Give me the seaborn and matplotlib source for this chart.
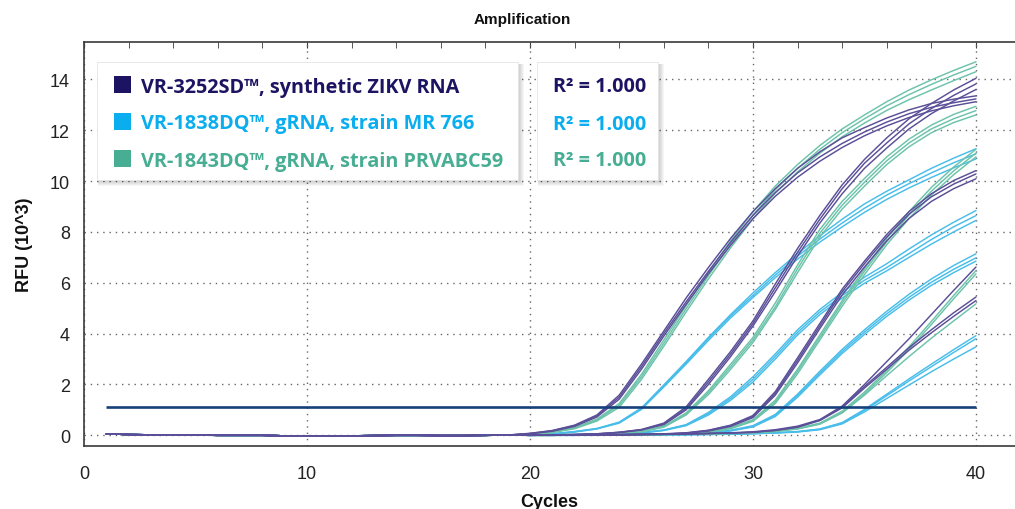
import matplotlib
matplotlib.use("Agg")
import matplotlib.pyplot as plt
import seaborn as sns
import pandas as pd
from matplotlib.patches import Rectangle
from matplotlib.ticker import MultipleLocator

# ---------------- data (RFU x 10^3) ----------------
CYCLES = list(range(1, 41))
# shared baseline, cycles 1..19
BASELINE = [0.06, 0.03, 0.02, 0.01, 0.01, 0.0, 0.0, 0.0, -0.02, -0.03,
            -0.03, -0.02, -0.01, 0.0, 0.0, -0.01, -0.01, 0.0, 0.01]

# each curve: cycles 20..40
# synthetic ZIKV RNA (VR-3252SD)
SYN_1A = [0.08,0.19,0.40,0.80,1.58,2.80,4.10,5.40,6.60,7.75,8.80,9.70,10.50,11.15,11.70,12.10,12.48,12.80,13.05,13.22,13.35]
SYN_1B = [0.07,0.18,0.38,0.76,1.50,2.70,4.00,5.25,6.45,7.60,8.65,9.55,10.32,10.95,11.48,11.93,12.32,12.65,12.90,13.08,13.23]
SYN_1C = [0.06,0.16,0.35,0.72,1.42,2.60,3.90,5.15,6.35,7.48,8.52,9.40,10.15,10.78,11.32,11.78,12.17,12.50,12.76,12.96,13.12]
SYN_2A = [0.01,0.02,0.03,0.06,0.12,0.23,0.48,1.12,2.20,3.30,4.50,5.95,7.35,8.65,9.85,10.85,11.70,12.45,13.05,13.58,14.04]
SYN_2B = [0.01,0.02,0.03,0.06,0.12,0.22,0.45,1.05,2.10,3.20,4.40,5.80,7.20,8.50,9.70,10.70,11.50,12.25,12.85,13.37,13.82]
SYN_2C = [0.01,0.02,0.03,0.05,0.11,0.21,0.42,1.00,2.00,3.10,4.30,5.65,7.05,8.35,9.50,10.50,11.30,12.05,12.65,13.15,13.60]
SYN_3A = [0.01,0.01,0.02,0.02,0.03,0.04,0.06,0.10,0.20,0.40,0.78,1.72,3.05,4.40,5.75,6.85,7.90,8.80,9.50,10.02,10.41]
SYN_3B = [0.01,0.01,0.02,0.02,0.03,0.04,0.05,0.09,0.19,0.38,0.74,1.65,2.95,4.30,5.65,6.75,7.80,8.70,9.38,9.88,10.28]
SYN_3C = [0.00,0.01,0.01,0.02,0.03,0.04,0.05,0.08,0.17,0.35,0.70,1.58,2.85,4.20,5.52,6.62,7.65,8.53,9.20,9.70,10.09]
SYN_4A = [0.00,0.01,0.01,0.02,0.02,0.03,0.04,0.06,0.08,0.10,0.14,0.22,0.36,0.62,1.15,2.00,2.90,3.80,4.75,5.70,6.62]
SYN_4B = [0.00,0.01,0.01,0.02,0.02,0.03,0.04,0.05,0.07,0.09,0.12,0.20,0.33,0.60,1.12,1.92,2.68,3.45,4.15,4.82,5.44]
SYN_4C = [0.00,0.00,0.01,0.01,0.02,0.03,0.04,0.05,0.07,0.09,0.12,0.19,0.32,0.58,1.08,1.86,2.60,3.35,4.03,4.68,5.30]

# gRNA strain MR 766 (VR-1838DQ)
MR_1A = [0.03,0.06,0.15,0.27,0.52,1.08,1.98,2.90,3.85,4.75,5.60,6.40,7.15,7.85,8.50,9.10,9.60,10.05,10.50,10.90,11.27]
MR_1B = [0.03,0.06,0.14,0.26,0.50,1.05,1.95,2.85,3.80,4.70,5.50,6.30,7.05,7.72,8.35,8.93,9.45,9.90,10.32,10.72,11.07]
MR_1C = [0.02,0.05,0.13,0.25,0.48,1.02,1.90,2.80,3.73,4.62,5.42,6.20,6.93,7.60,8.20,8.77,9.28,9.73,10.14,10.52,10.87]
MR_2A = [0.01,0.02,0.03,0.04,0.06,0.11,0.21,0.42,0.90,1.52,2.30,3.20,4.15,4.95,5.62,6.22,6.75,7.33,7.88,8.38,8.84]
MR_2B = [0.01,0.02,0.03,0.04,0.06,0.10,0.20,0.40,0.85,1.45,2.20,3.10,4.05,4.85,5.50,6.10,6.60,7.15,7.70,8.20,8.64]
MR_2C = [0.01,0.01,0.02,0.03,0.05,0.09,0.19,0.38,0.80,1.38,2.10,3.00,3.95,4.75,5.40,5.98,6.47,7.00,7.52,8.00,8.45]
MR_3A = [0.00,0.01,0.01,0.01,0.02,0.02,0.03,0.05,0.10,0.20,0.38,0.82,1.62,2.52,3.38,4.15,4.88,5.55,6.15,6.68,7.14]
MR_3B = [0.00,0.00,0.01,0.01,0.02,0.02,0.03,0.05,0.09,0.19,0.35,0.78,1.56,2.45,3.30,4.06,4.78,5.43,6.02,6.53,6.98]
MR_3C = [0.00,0.00,0.01,0.01,0.01,0.02,0.03,0.04,0.08,0.17,0.33,0.74,1.50,2.38,3.22,3.97,4.68,5.32,5.90,6.40,6.85]
MR_4A = [0.00,0.00,0.00,0.01,0.01,0.02,0.02,0.03,0.04,0.05,0.07,0.10,0.15,0.25,0.50,1.02,1.62,2.22,2.80,3.37,3.92]
MR_4B = [0.00,0.00,0.00,0.01,0.01,0.01,0.02,0.03,0.04,0.05,0.07,0.10,0.14,0.24,0.48,0.98,1.56,2.14,2.70,3.26,3.80]
MR_4C = [0.00,0.00,0.00,0.00,0.01,0.01,0.02,0.02,0.03,0.04,0.06,0.09,0.13,0.22,0.45,0.92,1.45,1.98,2.50,3.00,3.48]

# gRNA strain PRVABC59 (VR-1843DQ)
PRV_1A = [0.05,0.13,0.30,0.64,1.25,2.40,3.75,5.10,6.40,7.65,8.80,9.80,10.65,11.40,12.05,12.60,13.12,13.58,13.98,14.35,14.69]
PRV_1B = [0.05,0.12,0.28,0.60,1.18,2.30,3.62,4.98,6.28,7.52,8.66,9.66,10.50,11.25,11.90,12.45,12.96,13.40,13.80,14.17,14.51]
PRV_1C = [0.04,0.11,0.26,0.56,1.10,2.20,3.50,4.85,6.15,7.38,8.52,9.52,10.36,11.10,11.74,12.28,12.78,13.20,13.58,13.95,14.30]
PRV_2A = [0.01,0.02,0.03,0.05,0.08,0.16,0.36,0.88,1.75,2.80,3.85,5.20,6.70,8.10,9.20,10.10,10.95,11.65,12.20,12.62,12.94]
PRV_2B = [0.01,0.02,0.03,0.05,0.07,0.15,0.34,0.84,1.68,2.70,3.75,5.05,6.55,7.95,9.05,9.95,10.80,11.50,12.05,12.45,12.77]
PRV_2C = [0.01,0.01,0.02,0.04,0.07,0.14,0.32,0.80,1.60,2.60,3.65,4.95,6.40,7.80,8.90,9.80,10.65,11.35,11.90,12.30,12.60]
PRV_3A = [0.00,0.01,0.01,0.02,0.03,0.03,0.04,0.07,0.14,0.30,0.62,1.38,2.60,3.95,5.30,6.55,7.75,8.80,9.75,10.55,11.25]
PRV_3B = [0.00,0.01,0.01,0.02,0.02,0.03,0.04,0.07,0.13,0.28,0.58,1.32,2.52,3.85,5.20,6.45,7.62,8.67,9.60,10.40,11.10]
PRV_3C = [0.00,0.00,0.01,0.02,0.02,0.03,0.04,0.06,0.12,0.26,0.55,1.25,2.42,3.75,5.08,6.32,7.50,8.53,9.45,10.25,10.95]
PRV_4A = [0.00,0.00,0.01,0.01,0.02,0.03,0.04,0.05,0.06,0.08,0.11,0.17,0.28,0.48,0.95,1.70,2.55,3.48,4.48,5.50,6.48]
PRV_4B = [0.00,0.00,0.01,0.01,0.02,0.02,0.03,0.04,0.06,0.08,0.10,0.16,0.26,0.45,0.90,1.63,2.47,3.38,4.36,5.37,6.35]
PRV_4C = [0.00,0.00,0.01,0.01,0.02,0.02,0.03,0.04,0.05,0.07,0.10,0.15,0.25,0.44,0.88,1.58,2.35,3.10,3.82,4.50,5.17]

THRESHOLD = 1.12

MATERIALS = ["VR-3252SD™, synthetic ZIKV RNA",
             "VR-1838DQ™, gRNA, strain MR 766",
             "VR-1843DQ™, gRNA, strain PRVABC59"]
R2_TEXT = ["R² = 1.000", "R² = 1.000", "R² = 1.000"]
X_TICKS = [0, 10, 20, 30, 40]
Y_TICKS = [0, 2, 4, 6, 8, 10, 12, 14]

LINE_COLORS = ["#5a4f98", "#48bdea", "#6cc3aa"]
KEY_COLORS = ["#1c1462", "#0aaeef", "#47ad93"]

GROUPS = {
    MATERIALS[0]: [SYN_1A, SYN_1B, SYN_1C, SYN_2A, SYN_2B, SYN_2C,
                   SYN_3A, SYN_3B, SYN_3C, SYN_4A, SYN_4B, SYN_4C],
    MATERIALS[1]: [MR_1A, MR_1B, MR_1C, MR_2A, MR_2B, MR_2C,
                   MR_3A, MR_3B, MR_3C, MR_4A, MR_4B, MR_4C],
    MATERIALS[2]: [PRV_1A, PRV_1B, PRV_1C, PRV_2A, PRV_2B, PRV_2C,
                   PRV_3A, PRV_3B, PRV_3C, PRV_4A, PRV_4B, PRV_4C],
}

rows = []
for mat, curves in GROUPS.items():
    for i, c in enumerate(curves):
        vals = BASELINE + c
        for cyc, v in zip(CYCLES, vals):
            rows.append({"cycle": cyc, "rfu": v, "material": mat,
                         "curve": f"{mat}-{i}"})
df = pd.DataFrame(rows)

# ---------------- figure ----------------
sns.set_style("white")
plt.rcParams["font.family"] = ["Liberation Sans", "DejaVu Sans"]

W, H = 1015, 510
fig = plt.figure(figsize=(W / 100, H / 100), dpi=100)


def fx(p):
    return p / W


def fy(p):
    return 1 - p / H


ax = fig.add_axes([fx(84), fy(446.5), fx(1015) - fx(84), fy(42.7) - fy(446.5)])
ax.set_facecolor("white")

sns.lineplot(data=df, x="cycle", y="rfu", hue="material", units="curve",
             estimator=None, hue_order=[MATERIALS[1], MATERIALS[2], MATERIALS[0]],
             palette={MATERIALS[i]: LINE_COLORS[i] for i in range(3)},
             linewidth=1.05, legend=False, ax=ax, zorder=3)

ax.hlines(THRESHOLD, CYCLES[0], CYCLES[-1], color="#17407a", lw=1.9, zorder=4)

ax.set_xlim(0, 41.75)
ax.set_ylim(-0.4, 15.48)
ax.set_xticks(X_TICKS)
ax.set_yticks(Y_TICKS)
ax.xaxis.set_minor_locator(MultipleLocator(2))
ax.yaxis.set_minor_locator(MultipleLocator(0.4))
ax.grid(True, which="major", linestyle=(0, (1, 3.5)), color="#666666", lw=1.0)
ax.set_axisbelow(True)

for s in ["left", "bottom", "top"]:
    ax.spines[s].set_color("#3a3a3a")
    ax.spines[s].set_linewidth(1.2)
ax.spines["right"].set_visible(False)

ax.tick_params(axis="both", which="major", direction="inout", length=12,
               width=1.0, color="#3a3a3a", labelsize=13, labelcolor="#222222")
ax.tick_params(axis="both", which="minor", direction="inout", length=7,
               width=1.0, color="#3a3a3a")
ax.tick_params(axis="x", which="major", pad=8)
ax.tick_params(axis="y", which="major", pad=4)

top = ax.secondary_xaxis("top")
top.set_xticks(X_TICKS)
top.xaxis.set_minor_locator(MultipleLocator(2))
top.tick_params(which="both", direction="in", length=4, color="#3a3a3a",
                labeltop=False)
top.spines["top"].set_visible(False)

ax.set_xlabel("Cycles", fontsize=13, fontweight="bold", labelpad=8, color="#111111")
ax.set_ylabel("RFU (10^3)", fontsize=13, fontweight="bold", labelpad=12, color="#111111")

fig.text(fx(522), fy(20), "Amplification", ha="center", va="center",
         fontsize=11, fontweight="bold", color="#111111")


# ---------------- key boxes ----------------
def shadow_box(x0, y0, x1, y1):
    for k in range(6, 0, -1):
        fig.add_artist(Rectangle((fx(x0 + 1), fy(y1 + k)), fx(x1 - x0 - 1 + k),
                                 fy(y0 + 2) - fy(y1 + k), transform=fig.transFigure,
                                 facecolor="black", alpha=0.035, edgecolor="none",
                                 zorder=5))
    fig.add_artist(Rectangle((fx(x0), fy(y1)), fx(x1 - x0), fy(y0) - fy(y1),
                             transform=fig.transFigure, facecolor="white",
                             edgecolor="#e4e4e4", lw=0.6, zorder=6))


shadow_box(97, 63, 518, 181)
shadow_box(537, 63, 658, 181)

row_y = [85, 122, 159]
key_font = ["Open Sans", "DejaVu Sans"]
for i in range(3):
    fig.add_artist(Rectangle((fx(114), fy(row_y[i] + 8.5)), fx(17), fy(0) - fy(17),
                             transform=fig.transFigure, facecolor=KEY_COLORS[i],
                             edgecolor="none", zorder=7))
    fig.text(fx(141), fy(row_y[i]), MATERIALS[i], ha="left", va="center_baseline",
             fontsize=14.3, fontweight="bold", color=KEY_COLORS[i],
             family=key_font, zorder=8)
    fig.text(fx(600), fy(row_y[i]), R2_TEXT[i], ha="center", va="center_baseline",
             fontsize=14.3, fontweight="bold", color=KEY_COLORS[i],
             family=key_font, zorder=8)

fig.savefig("out.png", dpi=100)
